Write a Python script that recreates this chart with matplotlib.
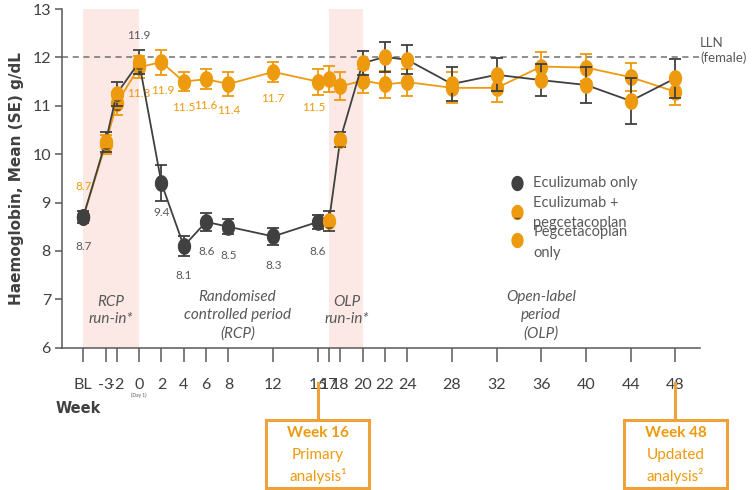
import numpy as np
import matplotlib
matplotlib.use("Agg")
import matplotlib.pyplot as plt
from matplotlib.path import Path
from matplotlib.patches import Rectangle

plt.rcParams['font.family'] = ['Lato', 'DejaVu Sans']

# weeks on the x axis (BL is drawn at -5)
weeks = [-5, -3, -2, 0, 2, 4, 6, 8, 12, 16, 17, 18, 20, 22, 24, 28, 32, 36, 40, 44, 48]
week_labels = ['BL', '-3', '-2', '0', '2', '4', '6', '8', '12', '16', '17', '18',
               '20', '22', '24', '28', '32', '36', '40', '44', '48']

# group randomised to eculizumab during the RCP
ecu_mean = [8.7, 10.25, 11.25, 11.9, 9.4, 8.1, 8.6, 8.5, 8.3, 8.6, 8.62, 10.3,
            11.88, 12.01, 11.95, 11.45, 11.64, 11.53, 11.43, 11.1, 11.57]
ecu_se = [0.12, 0.2, 0.25, 0.25, 0.37, 0.2, 0.18, 0.16, 0.17, 0.14, 0.2, 0.15,
          0.25, 0.31, 0.3, 0.36, 0.34, 0.33, 0.38, 0.47, 0.4]
# treatment received at each visit: E = eculizumab, EP = both, P = pegcetacoplan
ecu_trt = ['E', 'EP', 'EP', 'EP', 'E', 'E', 'E', 'E', 'E', 'E', 'EP', 'EP',
           'P', 'P', 'P', 'P', 'P', 'P', 'P', 'P', 'P']

# group randomised to pegcetacoplan during the RCP
peg_mean = [8.7, 10.2, 11.05, 11.8, 11.9, 11.5, 11.55, 11.45, 11.7, 11.5, 11.55, 11.4,
            11.52, 11.44, 11.49, 11.37, 11.37, 11.81, 11.79, 11.59, 11.29]
peg_se = [0.12, 0.2, 0.24, 0.22, 0.26, 0.2, 0.2, 0.25, 0.2, 0.27, 0.27, 0.29,
          0.25, 0.27, 0.28, 0.32, 0.29, 0.3, 0.27, 0.29, 0.28]
peg_trt = ['E', 'EP', 'EP', 'EP', 'P', 'P', 'P', 'P', 'P', 'P', 'P', 'P',
           'P', 'P', 'P', 'P', 'P', 'P', 'P', 'P', 'P']

# values printed next to the points
ecu_label_weeks = [-5, 0, 2, 4, 6, 8, 12, 16]
peg_label_weeks = [-5, 0, 2, 4, 6, 8, 12, 16]

GREY = '#404040'
ORANGE = '#EE9A0E'
TXT = '#595959'
SHADE = '#FCE9E5'

# elliptical marker and its lower cap used for the combined treatment
t = np.linspace(0, 2 * np.pi, 60)
ELLIPSE = Path(np.c_[0.78 * np.cos(t), np.sin(t)], closed=True)
tb = np.linspace(np.pi + 0.85, 2 * np.pi - 0.85, 30)
cap = np.c_[0.78 * np.cos(tb), np.sin(tb)]
LOWER = Path(np.vstack([cap, cap[:1]]), closed=True)

fig = plt.figure(figsize=(7.55, 4.9), dpi=100)
ax = fig.add_axes([62 / 755, 1 - 347.7 / 490, 638 / 755, 338.7 / 490])
ax.set_xlim(-6.9, 50.2)
ax.set_ylim(6, 13)

# run-in periods
ax.axvspan(-5, 0, color=SHADE, zorder=0, lw=0)
ax.axvspan(17, 20, color=SHADE, zorder=0, lw=0)

# lower limit of normal
ax.axhline(12, color='#707070', lw=1.1, ls=(0, (4, 3)), zorder=1)
ax.text(1.0, 12.15, 'LLN\n(female)', transform=ax.get_yaxis_transform(),
        ha='left', va='center', fontsize=9.5, color=TXT, linespacing=1.25)


def draw_series(mean, se, trt, color, z):
    ax.errorbar(weeks, mean, yerr=se, color=color, lw=1.3, capsize=4,
                capthick=1.3, elinewidth=1.3, zorder=z)
    for w, m, tr in zip(weeks, mean, trt):
        face = GREY if tr == 'E' else ORANGE
        ax.plot(w, m, marker=ELLIPSE, ms=11, color=face, mec=face, ls='none', zorder=z + 1)
        if tr == 'EP':
            ax.plot(w, m, marker=LOWER, ms=11, color='#6e5226', mec='none',
                    ls='none', zorder=z + 1.5)


draw_series(peg_mean, peg_se, peg_trt, ORANGE, 3)
draw_series(ecu_mean, ecu_se, ecu_trt, GREY, 5)

# value labels
for w in ecu_label_weeks:
    m = ecu_mean[weeks.index(w)]
    dy = 19 if w == 0 else -21
    ax.annotate(f'{m:.1f}', (w, m), xytext=(0, dy), textcoords='offset points',
                ha='center', va='center', fontsize=8.5, color=TXT)
peg_offsets = {-5: (0, 22), 0: (0, -19), 2: (1, -20), 4: (0, -19), 6: (0, -19),
               8: (0, -19), 12: (0, -19), 16: (-3, -19)}
for w in peg_label_weeks:
    m = peg_mean[weeks.index(w)]
    ax.annotate(f'{m:.1f}', (w, m), xytext=peg_offsets[w], textcoords='offset points',
                ha='center', va='center', fontsize=8.5, color=ORANGE)

# period names
period_kw = dict(transform=ax.get_xaxis_transform(), ha='center', va='center',
                 fontsize=11, style='italic', color=TXT, linespacing=1.35)
ax.text(-2.5, 0.11, 'RCP\nrun-in*', **period_kw)
ax.text(8.8, 0.096, 'Randomised\ncontrolled period\n(RCP)', **period_kw)
ax.text(18.6, 0.11, 'OLP\nrun-in*', **period_kw)
ax.text(36, 0.096, 'Open-label\nperiod\n(OLP)', **period_kw)

# axes styling
for s in ['top', 'right']:
    ax.spines[s].set_visible(False)
for s in ['left', 'bottom']:
    ax.spines[s].set_color('#595959')
    ax.spines[s].set_linewidth(1.1)
ax.set_xticks(weeks)
ax.set_xticklabels(week_labels)
ax.set_yticks(range(6, 14))
ax.tick_params(axis='x', length=10, width=1.1, color='#595959', pad=12,
               labelsize=11.5, labelcolor=GREY)
ax.tick_params(axis='y', length=5, width=1.1, color='#595959', pad=3,
               labelsize=11.5, labelcolor=GREY)
ax.set_ylabel('Haemoglobin, Mean (SE) g/dL', family='DejaVu Sans', fontweight='bold',
              fontsize=11, color=GREY, labelpad=6)
ax.text(0, -0.14, '(Day 1)', transform=ax.get_xaxis_transform(), ha='center',
        va='center', fontsize=3.5, color=TXT)
fig.text(78 / 755, 1 - 408 / 490, 'Week', ha='center', va='center', family='DejaVu Sans',
         fontweight='bold', fontsize=10.5, color=GREY)

# legend drawn by hand
lx, ltx = 0.713, 0.739
ax.plot(lx, 0.486, marker=ELLIPSE, ms=10, color=GREY, transform=ax.transAxes, clip_on=False)
ax.plot(lx, 0.400, marker=ELLIPSE, ms=10, color=ORANGE, transform=ax.transAxes, clip_on=False)
ax.plot(lx, 0.400, marker=LOWER, ms=10, color='#6e5226', mec='none',
        transform=ax.transAxes, clip_on=False)
ax.plot(lx, 0.317, marker=ELLIPSE, ms=10, color=ORANGE, transform=ax.transAxes, clip_on=False)
leg_kw = dict(transform=ax.transAxes, ha='left', va='center', fontsize=10.5, color=TXT)
ax.text(ltx, 0.486, 'Eculizumab only', **leg_kw)
ax.text(ltx, 0.427, 'Eculizumab +', **leg_kw)
ax.text(ltx, 0.368, 'pegcetacoplan', **leg_kw)
ax.text(ltx, 0.341, 'Pegcetacoplan', **leg_kw)
ax.text(ltx, 0.279, 'only', **leg_kw)

# analysis call-outs below the axis
BOX = '#F0A23A'
trans = ax.get_xaxis_transform()
for wk, title, sub in [(16, 'Week 16', 'Primary\nanalysis¹'),
                       (48, 'Week 48', 'Updated\nanalysis²')]:
    ax.plot([wk, wk], [-0.104, -0.213], color=BOX, lw=2.2, transform=trans, clip_on=False)
    ax.add_patch(Rectangle((wk - 4.6, -0.413), 9.2, 0.2, transform=trans, fill=False,
                           ec=BOX, lw=2.2, clip_on=False))
    ax.text(wk, -0.252, title, transform=trans, ha='center', va='center',
            fontsize=11, fontweight='bold', color=ORANGE)
    ax.text(wk, -0.35, sub, transform=trans, ha='center', va='center',
            fontsize=11, color=ORANGE, linespacing=1.45)

fig.savefig('out.png', dpi=100)
